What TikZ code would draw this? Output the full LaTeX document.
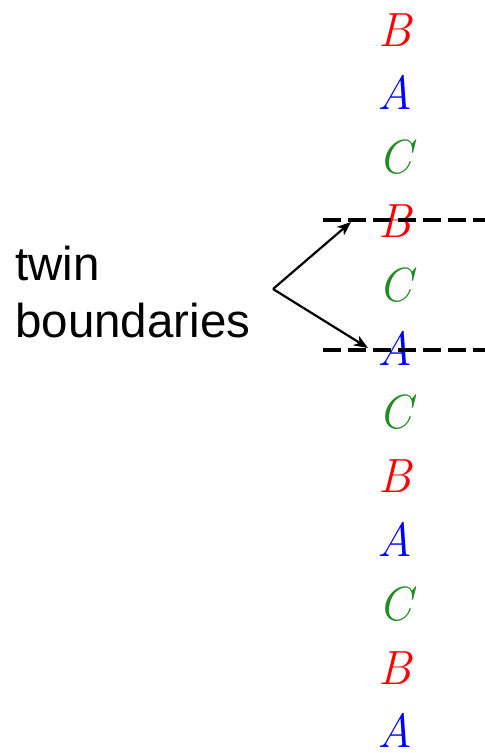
\documentclass[tikz,border=0pt]{standalone}
\usepackage{fontspec}
\setsansfont{Liberation Sans}
\usetikzlibrary{arrows.meta}
\definecolor{lred}{RGB}{255,0,0}
\definecolor{lblue}{RGB}{0,0,255}
\definecolor{lgreen}{RGB}{34,139,34}
\begin{document}
\begin{tikzpicture}[x=1pt,y=-1pt,
  letter/.style={anchor=base,inner sep=0pt,font=\rmfamily\itshape\fontsize{48}{48}\selectfont},
  bound/.style={line width=4.3pt,dash pattern=on 18pt off 7pt},
  pointer/.style={line width=2.2pt,-{Stealth[length=14pt,width=11pt,inset=4pt]}}]
\useasboundingbox (0,0) rectangle (485,753);
\foreach \i/\l/\c in {0/B/lred,1/A/lblue,2/C/lgreen,3/B/lred,4/C/lgreen,5/A/lblue,6/C/lgreen,7/B/lred,8/A/lblue,9/C/lgreen,10/B/lred,11/A/lblue}{
  \node[letter,text=\c] (L\i) at (395,{46+63.8*\i}) {\l};
}
\node[anchor=base west,inner sep=0pt,align=left,font=\sffamily\fontsize{47.5}{57}\selectfont] (tb) at (15,337) {twin\\boundaries};
\coordinate (s) at (273,289);
\coordinate (d1a) at (323,220);
\coordinate (d1b) at (485,220);
\coordinate (d2a) at (323,350);
\coordinate (d2b) at (485,350);
\draw[bound] (d1a) -- (d1b);
\draw[bound] (d2a) -- (d2b);
\coordinate (t1) at (351,222);
\coordinate (t2) at (368,348);
\draw[pointer] (s) -- (t1);
\draw[pointer] (s) -- (t2);
\end{tikzpicture}
\end{document}
